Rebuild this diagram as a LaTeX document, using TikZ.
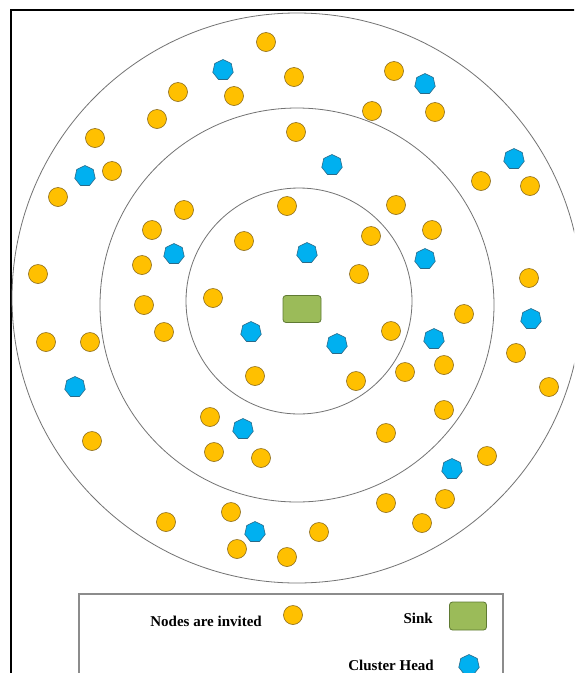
\documentclass[tikz,border=0pt]{standalone}
\usepackage{fontspec}
\setmainfont{Liberation Serif}
\usetikzlibrary{shapes.geometric}
\definecolor{nodeorange}{HTML}{FFC000}
\definecolor{nodeedge}{HTML}{8A6A1A}
\definecolor{chblue}{HTML}{00B0F0}
\definecolor{chedge}{HTML}{2A6A88}
\definecolor{sinkgreen}{HTML}{9BBB59}
\definecolor{sinkedge}{HTML}{5F7A33}
\definecolor{legendgray}{HTML}{8C8C8C}

\begin{document}
\begin{tikzpicture}[x=1pt,y=-1pt]
  \tikzstyle{member}=[circle, draw=nodeedge, fill=nodeorange, line width=0.6pt,
    minimum size=19pt, inner sep=0pt]
  \tikzstyle{head}=[regular polygon, regular polygon sides=7, draw=chedge, fill=chblue,
    line width=0.6pt, minimum size=21pt, inner sep=0pt]
  \tikzstyle{sinkbox}=[draw=sinkedge, fill=sinkgreen, rounded corners=3pt, line width=0.8pt,
    minimum width=38pt, minimum height=27pt, inner sep=0pt]
  \tikzstyle{ring}=[draw=black!55, line width=0.8pt]
  \tikzstyle{legend}=[font=\fontsize{15}{18}\selectfont\bfseries, inner sep=0pt, anchor=base east]

  \clip (0,0) rectangle (574,673);
  \fill[white] (0,0) rectangle (574,673);
  % frame
  \draw[line width=1.6pt] (11,700) -- (11,10) -- (600,10);

  % rings
  \draw[ring] (297,298) circle [radius=285];
  \draw[ring] (297,305) circle [radius=197];
  \draw[ring] (299,301) circle [radius=113];

  % sink
  \node[sinkbox] (sink) at (302,309) {};

  % ordinary nodes
  \foreach \x/\y [count=\i] in {266/42, 294/77, 178/92, 234/96, 157/119, 296/132, 95/138,
      112/171, 58/197, 184/210, 287/206, 152/230, 244/241, 142/265, 38/274, 213/298, 144/305,
      394/71, 372/111, 435/112, 481/181, 530/186, 396/205, 432/230, 371/236, 359/274, 529/278,
      464/314, 391/331, 516/353, 444/365, 405/372, 356/381, 549/387, 444/410, 386/433,
      487/456, 445/499, 386/503, 422/523, 319/532, 287/557,
      164/332, 46/342, 90/342, 255/376, 210/417, 92/441, 214/452, 261/458, 231/512,
      166/522, 237/549}
    \node[member] (m\i) at (\x,\y) {};

  % cluster heads
  \foreach \x/\y [count=\i] in {223/70, 425/84, 332/165, 514/159, 85/176, 174/254,
      307/253, 425/259, 251/332, 337/344, 434/339, 531/319, 75/387, 243/429,
      452/469, 255/532}
    \node[head] (ch\i) at (\x,\y) {};

  % legend
  \draw[legendgray, line width=1.3pt] (79,700) -- (79,594) -- (503,594) -- (503,700);
  \node[legend] (lblmember) at (262,626) {Nodes are invited};
  \node[member] (keymember) at (293,615) {};
  \node[legend] (lblsink) at (433,623) {Sink};
  \node[sinkbox, minimum width=37pt, minimum height=28pt] (keysink) at (468,616) {};
  \node[legend] (lblhead) at (434,670) {Cluster Head};
  \node[head] (keyhead) at (469,665) {};
\end{tikzpicture}
\end{document}
